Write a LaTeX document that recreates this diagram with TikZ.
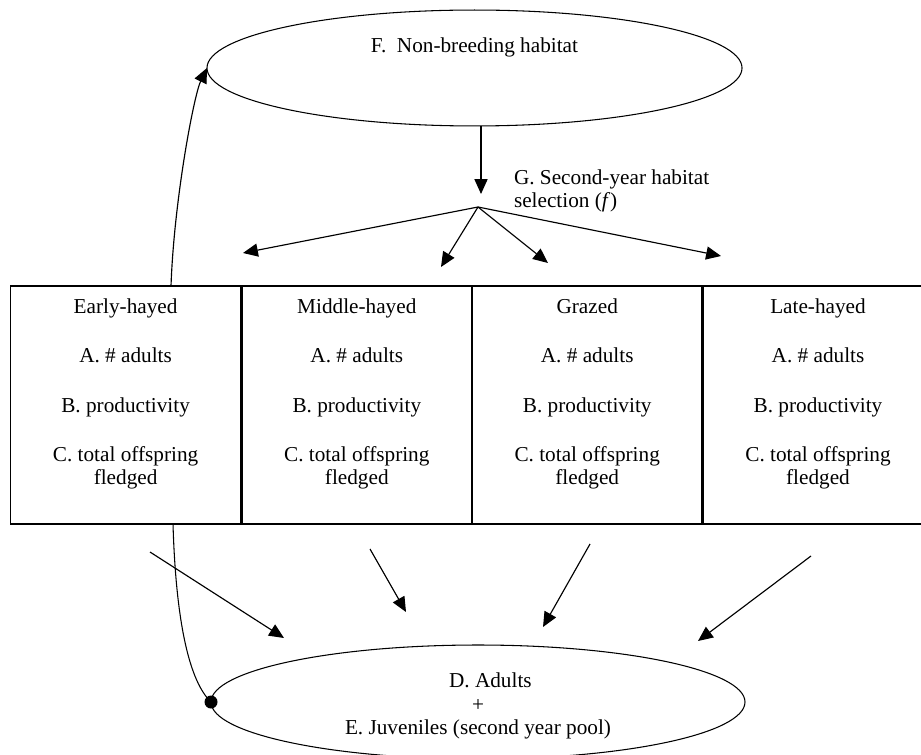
\documentclass[tikz,border=0pt]{standalone}
\usepackage{fontspec}
\setmainfont{Liberation Serif}
\usetikzlibrary{shapes.geometric,arrows.meta}
\begin{document}
\begin{tikzpicture}[x=0.565pt,y=-0.565pt,
  every node/.style={font=\fontsize{12}{13}\selectfont, inner sep=0pt, outer sep=0pt},
  ell/.style={draw, ellipse, line width=0.6pt},
  habbox/.style={draw, rectangle, line width=0.7pt, minimum width=130pt, minimum height=134.5pt},
  boxtext/.style={align=center},
  arr/.style={line width=0.65pt, -{Triangle[length=8.4pt,width=7.4pt]}},
  ln/.style={line width=0.6pt}]
\useasboundingbox (0,0) rectangle (921,755);
\clip (0,0) rectangle (921,755);

% top ellipse
\node[ell, minimum width=302.3pt, minimum height=65.5pt] (F) at (474.5,68) {};
\node (ftxt) at (474.5,47) {F.\ \ Non-breeding habitat};

% habitat boxes
\node[habbox] (b1) at (125.4,405) {};
\node[habbox] (b2) at (357,405) {};
\node[habbox] (b3) at (587,405) {};
\node[habbox] (b4) at (818.6,405) {};
\node[boxtext] (t1) at (125.6,394) {Early-hayed\\[15pt]A. \# adults\\[15pt]B. productivity\\[15pt]C. total offspring\\fledged};
\node[boxtext] (t2) at (356.8,394) {Middle-hayed\\[15pt]A. \# adults\\[15pt]B. productivity\\[15pt]C. total offspring\\fledged};
\node[boxtext] (t3) at (587.2,394) {Grazed\\[15pt]A. \# adults\\[15pt]B. productivity\\[15pt]C. total offspring\\fledged};
\node[boxtext] (t4) at (818,394) {Late-hayed\\[15pt]A. \# adults\\[15pt]B. productivity\\[15pt]C. total offspring\\fledged};

% bottom ellipse
\node[ell, minimum width=301.7pt, minimum height=64.4pt] (D) at (478,702) {};
\node[align=center, font=\fontsize{12}{13.5}\selectfont] (dtxt) at (478,706) {\hspace*{14pt}D. Adults\\+\\E. Juveniles (second year pool)};

% G label
\node[align=left, anchor=west] (glab) at (514,190.5) {G. Second-year habitat\\selection (\textit{f})};

% coordinates
\coordinate (gin) at (481,194);
\coordinate (g) at (478,207);
\coordinate (gt1) at (243,253);
\coordinate (gt2) at (441,267);
\coordinate (gt3) at (548,263);
\coordinate (gt4) at (721,256);
\coordinate (e1t) at (171,286);
\coordinate (e1b) at (173,524);
\coordinate (s1) at (150,552);
\coordinate (d1) at (284,638);
\coordinate (s2) at (370,549);
\coordinate (d2) at (406,612);
\coordinate (s3) at (590,544);
\coordinate (d3) at (543,627);
\coordinate (s4) at (811,556);
\coordinate (d4) at (698,641);

% F to selection
\draw[arr] (gin |- F.south) -- (gin);
\draw[arr] (g) -- (gt1);
\draw[arr] (g) -- (gt2);
\draw[arr] (g) -- (gt3);
\draw[arr] (g) -- (gt4);

% early-hayed return curve
\draw[arr] (e1t) .. controls (174,200) and (194,95) .. (F.west);
\draw[ln] (e1b) .. controls (176,625) and (190,682) .. (D.west);
\fill (D.west) circle (6.5);

% boxes to pool
\draw[arr] (s1) -- (d1);
\draw[arr] (s2) -- (d2);
\draw[arr] (s3) -- (d3);
\draw[arr] (s4) -- (d4);
\end{tikzpicture}
\end{document}
